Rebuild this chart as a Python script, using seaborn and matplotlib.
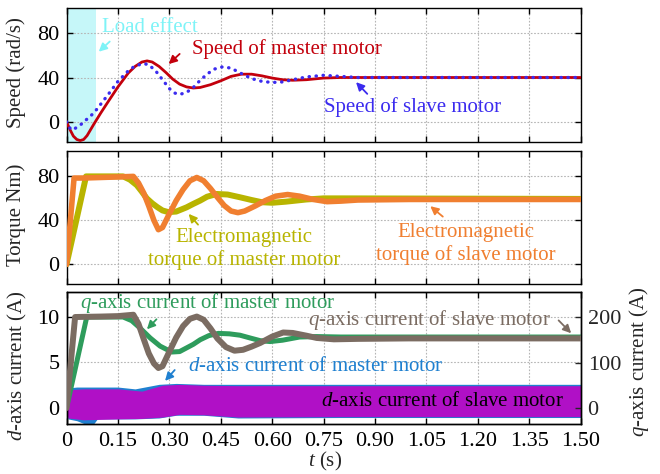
import matplotlib
matplotlib.use("Agg")
import numpy as np
import pandas as pd
import seaborn as sns
import matplotlib.pyplot as plt

# ---- data ----
t_spd_m = [0, 0.01, 0.02, 0.03, 0.04, 0.05, 0.06, 0.08, 0.10, 0.12, 0.15, 0.18, 0.20, 0.22, 0.235,
           0.25, 0.27, 0.29, 0.31, 0.33, 0.35, 0.37, 0.39, 0.42, 0.45, 0.48, 0.51, 0.54, 0.57, 0.60,
           0.63, 0.66, 0.70, 0.75, 0.80, 0.85, 1.00, 1.50]
spd_master = [0, -7, -13, -16, -17, -16, -12.5, -2, 8, 17.5, 31.5, 44, 50, 54, 55,
              54, 50, 44.5, 38.5, 34, 31.5, 30.5, 31, 33.5, 37, 41, 43, 43, 41.5, 39.5,
              38, 37.5, 38, 39.5, 40, 40, 40, 40]

t_spd_s = [0, 0.008, 0.015, 0.025, 0.04, 0.06, 0.08, 0.10, 0.12, 0.15, 0.18, 0.20, 0.225, 0.24,
           0.26, 0.28, 0.30, 0.315, 0.33, 0.35, 0.37, 0.39, 0.41, 0.43, 0.455, 0.48, 0.51, 0.54,
           0.57, 0.60, 0.63, 0.66, 0.70, 0.75, 0.80, 0.85, 1.00, 1.50]
spd_slave = [0, -5, -7.5, -6, -3, 2.5, 8, 16, 24, 36.5, 46, 50.5, 52.6, 51.5,
             46, 38, 30, 26, 24.7, 26.5, 31, 37.5, 43, 47.5, 49.6, 48.5, 43.6, 39,
             36.5, 35.5, 36, 38, 40.5, 42, 41, 40, 40, 40]

t_trq_s = [0, 0.022, 0.05, 0.10, 0.15, 0.195, 0.21, 0.225, 0.24, 0.255, 0.268, 0.28, 0.30, 0.32,
           0.34, 0.36, 0.38, 0.40, 0.42, 0.44, 0.46, 0.48, 0.50, 0.52, 0.55, 0.58, 0.61, 0.645,
           0.68, 0.72, 0.76, 0.80, 0.85, 1.00, 1.50]
trq_slave = [0, 78.5, 78.5, 79, 79.5, 80, 74, 65, 53, 40, 31.5, 33.5, 46, 58,
             68, 76, 79, 76, 69, 61, 53.5, 48.5, 47, 48.5, 53, 58, 62, 63.5,
             62, 59, 57, 57.5, 58.5, 59, 59]

t_trq_m = [0, 0.057, 0.10, 0.165, 0.185, 0.205, 0.22, 0.234, 0.25, 0.265, 0.28, 0.297, 0.32,
           0.35, 0.37, 0.39, 0.41, 0.438, 0.47, 0.506, 0.54, 0.57, 0.60, 0.64, 0.70, 0.75, 0.80, 1.50]
trq_master = [0, 80, 80, 80, 77, 72, 66, 60, 55.5, 52, 49, 47.5, 48,
              51.8, 55, 58, 61.5, 64, 63.5, 61, 58.5, 56.5, 56, 57, 59, 60, 60, 59.5]

t_iq_m = [0, 0.059, 0.10, 0.165, 0.19, 0.214, 0.244, 0.273, 0.307, 0.33, 0.35, 0.37, 0.39,
          0.415, 0.443, 0.475, 0.506, 0.535, 0.565, 0.594, 0.63, 0.68, 0.73, 0.80, 1.50]
iq_master = [0, 10, 10, 10, 9.6, 8.8, 7.7, 6.8, 6.15, 6.2, 6.6, 7.0, 7.5,
             7.95, 8.2, 8.15, 8.0, 7.7, 7.4, 7.3, 7.45, 7.8, 7.85, 7.8, 7.8]

t_iq_s = [0, 0.025, 0.10, 0.15, 0.195, 0.21, 0.224, 0.24, 0.255, 0.268, 0.28, 0.30, 0.32, 0.34,
          0.36, 0.38, 0.40, 0.42, 0.44, 0.465, 0.49, 0.515, 0.54, 0.565, 0.60, 0.632, 0.66, 0.70,
          0.73, 0.78, 0.85, 1.00, 1.50]
iq_slave = [0, 200, 201, 202, 205, 185, 154, 120, 98, 88, 92, 124, 155, 180,
            196, 201, 194, 175, 153, 134, 126, 128, 135, 143, 157, 166, 165, 159,
            154, 151, 152, 153, 153]

# d-axis currents are dense noise bands: lower / upper envelopes
t_id_m = [0, 0.004, 0.03, 0.05, 0.08, 0.09, 0.15, 0.20, 0.27, 0.32, 0.40, 0.50, 0.80, 1.50]
id_master_lo = [0, -1.2, -1.4, -1.7, -1.7, -1.2, -1.2, -1.2, -1.1, -0.8, -0.8, -1.1, -1.05, -1.05]
id_master_hi = [0, 2.2, 2.3, 2.3, 2.3, 2.3, 2.3, 2.1, 2.6, 2.7, 2.6, 2.6, 2.6, 2.6]

t_id_s = [0, 0.004, 0.05, 0.15, 0.22, 0.28, 0.33, 0.40, 0.50, 0.80, 1.50]
id_slave_lo = [0, -1.1, -1.3, -1.2, -1.15, -1.0, -0.7, -0.75, -1.0, -0.95, -0.95]
id_slave_hi = [0, 2.0, 2.1, 2.1, 1.85, 2.5, 2.6, 2.5, 2.45, 2.45, 2.45]

load_end = 0.086

x_ticks = [0, 0.15, 0.30, 0.45, 0.60, 0.75, 0.90, 1.05, 1.20, 1.35, 1.50]
x_labels = ["0", "0.15", "0.30", "0.45", "0.60", "0.75", "0.90", "1.05", "1.20", "1.35", "1.50"]
spd_ticks = [0, 40, 80]
trq_ticks = [0, 40, 80]
id_ticks = [0, 5, 10]
iq_ticks = [0, 100, 200]

# ---- style ----
sns.set_style("ticks")
plt.rcParams["font.family"] = ["Liberation Serif", "DejaVu Serif"]
plt.rcParams["mathtext.fontset"] = "custom"
plt.rcParams["mathtext.rm"] = "Liberation Serif"
plt.rcParams["mathtext.it"] = "Liberation Serif:italic"
plt.rcParams["axes.linewidth"] = 1.0
plt.rcParams["axes.edgecolor"] = "black"

C_RED = "#c3000c"
C_BLUE = "#3b2bef"
C_ORANGE = "#f07f30"
C_OLIVE = "#b8b400"
C_GREEN = "#2e9c5c"
C_BROWN = "#7b6c62"
C_DBLUE = "#1f80d0"
C_MAG = "#b010c6"

fig = plt.figure(figsize=(6.6, 4.74), dpi=100)
ax1 = fig.add_axes([0.1008, 0.7004, 0.779, 0.2827])
ax2 = fig.add_axes([0.1008, 0.4008, 0.779, 0.2816])
ax3 = fig.add_axes([0.1008, 0.1055, 0.779, 0.2785])
ax3r = ax3.twinx()


def style_axis(ax, yticks, ylim, right=True):
    ax.set_xlim(0, 1.5)
    ax.set_ylim(*ylim)
    ax.set_xticks(x_ticks)
    ax.set_yticks(yticks)
    ax.grid(True, color="#b5b5b5", linestyle=(0, (1.5, 1.5)), linewidth=0.8)
    ax.set_axisbelow(True)
    ax.tick_params(direction="in", length=4, width=1.0, top=True, right=right,
                   labelsize=16, pad=5, colors="black")
    for s in ax.spines.values():
        s.set_visible(True)
        s.set_color("black")


# ---- speed ----
ax1.axvspan(0, load_end, color="#c6f7f9", zorder=0.5, lw=0)
sns.lineplot(x=t_spd_m, y=spd_master, ax=ax1, color=C_RED, lw=2.0, sort=False, zorder=3)
sns.lineplot(x=t_spd_s, y=spd_slave, ax=ax1, color=C_BLUE, lw=2.4, sort=False, zorder=4,
             linestyle=(0, (0.1, 2.0)), dash_capstyle="round")
style_axis(ax1, spd_ticks, (-18.3, 102.8))
ax1.set_xticklabels([])
ax1.set_ylabel("Speed (rad/s)", fontsize=15)
ax1.yaxis.set_label_coords(-0.078, 0.52)

ax1.text(0.244, 85.5, "Load effect", color="#7ef3f7", fontsize=15, ha="center", va="center")
ax1.annotate("", xy=(0.088, 61.6), xytext=(0.132, 74.2),
             arrowprops=dict(arrowstyle="-|>", color="#7ef3f7", lw=1.3, mutation_scale=12))
ax1.text(0.642, 66.1, "Speed of master motor", color=C_RED, fontsize=15, ha="center", va="center")
ax1.annotate("", xy=(0.292, 50.4), xytext=(0.336, 63),
             arrowprops=dict(arrowstyle="-|>", color=C_RED, lw=1.3, mutation_scale=12))
ax1.text(1.009, 13.5, "Speed of slave motor", color=C_BLUE, fontsize=15, ha="center", va="center")
ax1.annotate("", xy=(0.839, 37.6), xytext=(0.883, 23.4),
             arrowprops=dict(arrowstyle="-|>", color=C_BLUE, lw=1.3, mutation_scale=12))

# ---- torque ----
sns.lineplot(x=t_trq_m, y=trq_master, ax=ax2, color=C_OLIVE, lw=4.3, sort=False, zorder=3)
sns.lineplot(x=t_trq_s, y=trq_slave, ax=ax2, color=C_ORANGE, lw=4.0, sort=False, zorder=4)
style_axis(ax2, trq_ticks, (-17.9, 103.5))
ax2.set_xticklabels([])
ax2.set_ylabel("Torque Nm)", fontsize=15)
ax2.yaxis.set_label_coords(-0.078, 0.52)

ax2.text(0.518, 13.9, "Electromagnetic\ntorque of master motor", color=C_OLIVE, fontsize=15,
         ha="center", va="center", linespacing=1.2)
ax2.annotate("", xy=(0.351, 47.8), xytext=(0.389, 34.2),
             arrowprops=dict(arrowstyle="-|>", color=C_OLIVE, lw=1.3, mutation_scale=12))
ax2.text(1.166, 18.6, "Electromagnetic\ntorque of slave motor", color=C_ORANGE, fontsize=15,
         ha="center", va="center", linespacing=1.2)
ax2.annotate("", xy=(1.055, 54.5), xytext=(1.104, 41.8),
             arrowprops=dict(arrowstyle="-|>", color=C_ORANGE, lw=1.3, mutation_scale=12))

# ---- currents ----
ax3.fill_between(t_id_m, id_master_lo, id_master_hi, color=C_DBLUE, lw=0, zorder=2)
ax3.fill_between(t_id_s, id_slave_lo, id_slave_hi, color=C_MAG, lw=0, zorder=2.5)
sns.lineplot(x=t_iq_m, y=iq_master, ax=ax3, color=C_GREEN, lw=3.6, sort=False, zorder=3)
style_axis(ax3, id_ticks, (-1.76, 12.75), right=False)
ax3.set_xticklabels(x_labels)
ax3.tick_params(axis="x", pad=6)
ax3.set_ylabel("$d$-axis current (A)", fontsize=15)
ax3.yaxis.set_label_coords(-0.073, 0.44)
ax3.set_xlabel("$t$ (s)", fontsize=15)
ax3.xaxis.set_label_coords(0.503, -0.2)

sns.lineplot(x=t_iq_s, y=iq_slave, ax=ax3r, color=C_BROWN, lw=4.3, sort=False, zorder=3)
ax3r.set_ylim(-35, 255)
ax3r.set_yticks(iq_ticks)
ax3r.tick_params(direction="in", length=4, width=1.0, labelsize=16, pad=5)
ax3r.set_ylabel("$q$-axis current (A)", fontsize=15)
ax3r.yaxis.set_label_coords(1.09, 0.47)

ax3.text(0.411, 11.5, "$q$-axis current of master motor", color=C_GREEN, fontsize=15,
         ha="center", va="center")
ax3.annotate("", xy=(0.229, 8.43), xytext=(0.268, 9.97),
             arrowprops=dict(arrowstyle="-|>", color=C_GREEN, lw=1.3, mutation_scale=12))
ax3r.text(1.06, 193, "$q$-axis current of slave motor", color=C_BROWN, fontsize=15,
          ha="center", va="center")
ax3r.annotate("", xy=(1.478, 160), xytext=(1.43, 197),
              arrowprops=dict(arrowstyle="-|>", color=C_BROWN, lw=1.3, mutation_scale=12))
ax3.text(0.727, 4.54, "$d$-axis current of master motor", color=C_DBLUE, fontsize=15,
         ha="center", va="center")
ax3.annotate("", xy=(0.282, 2.75), xytext=(0.321, 4.4),
             arrowprops=dict(arrowstyle="-|>", color=C_DBLUE, lw=1.3, mutation_scale=12))
ax3.text(1.098, 0.66, "$d$-axis current of slave motor", color="black", fontsize=15,
         ha="center", va="center", zorder=5)

fig.savefig("out.png", dpi=100)
